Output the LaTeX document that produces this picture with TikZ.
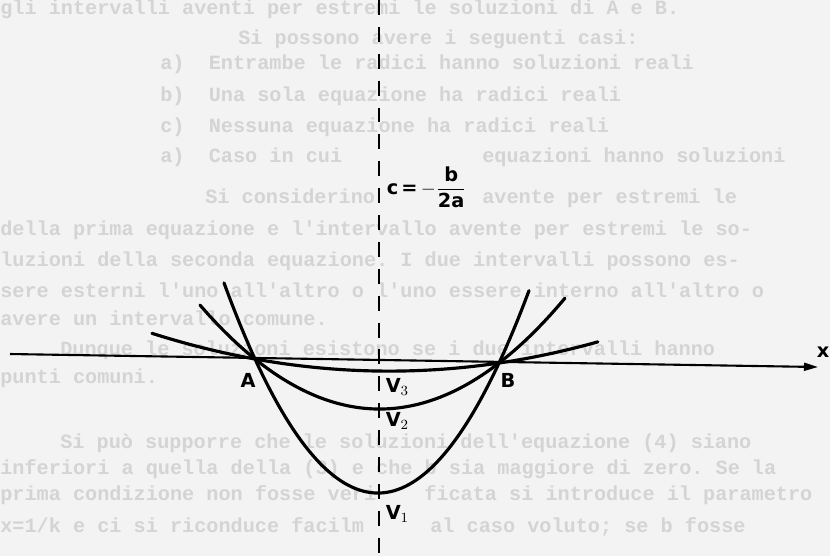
\documentclass[tikz,border=0pt]{standalone}
\usepackage{amsmath}
\usepackage{fontspec}
\setsansfont{DejaVu Sans}
\setmonofont{Liberation Mono}
\usetikzlibrary{arrows.meta}

\definecolor{pagebg}{RGB}{243,243,243}
\definecolor{bleed}{RGB}{212,212,212}

\begin{document}
\begin{tikzpicture}[
    x=0.02cm, y=-0.02cm,
    curve/.style={line width=1.8pt, line cap=round},
    xaxis/.style={line width=1.2pt, -{Triangle[length=8pt, width=4.5pt]}},
    symaxis/.style={line width=1.5pt, dash pattern=on 8.5pt off 6.8pt},
    lbl/.style={font=\sffamily\bfseries\fontsize{11pt}{13pt}\selectfont, inner sep=0.8pt},
    bgtext/.style={anchor=base west, inner sep=0pt, text=bleed, font=\ttfamily\bfseries\fontsize{11.5pt}{14pt}\selectfont}
]
    \useasboundingbox (0,0) rectangle (830,556);
    \fill[pagebg] (0,0) rectangle (830,556);

    % faint text of the printed page
    \begin{scope}
        \clip (0,0) rectangle (830,556);
        \node (t0) [bgtext] at (0,14) {gli intervalli aventi per estremi le soluzioni di A e B.};
        \node (t1) [bgtext] at (238,44) {Si possono avere i seguenti casi:};
        \node (t2) [bgtext] at (160,69) {a)\ \ Entrambe le radici hanno soluzioni reali};
        \node (t3) [bgtext] at (160,101) {b)\ \ Una sola equazione ha radici reali};
        \node (t4) [bgtext] at (160,132) {c)\ \ Nessuna equazione ha radici reali};
        \node (t5a) [bgtext] at (160,162) {a)\ \ Caso in cui};
        \node (t5b) [bgtext] at (482,162) {equazioni hanno soluzioni};
        \node (t6a) [bgtext] at (205,203) {Si considerino};
        \node (t6b) [bgtext] at (482,203) {avente per estremi le};
        \node (t7) [bgtext] at (0,235) {della prima equazione e l'intervallo avente per estremi le so-};
        \node (t8) [bgtext] at (0,266) {luzioni della seconda equazione. I due intervalli possono es-};
        \node (t9) [bgtext] at (0,297) {sere esterni l'uno all'altro o l'uno essere interno all'altro o};
        \node (t10) [bgtext] at (0,325) {avere un intervallo comune.};
        \node (t11) [bgtext] at (60,355) {Dunque le soluzioni esistono se i due intervalli hanno};
        \node (t12) [bgtext] at (0,383) {punti comuni.};
        \node (t13) [bgtext] at (60,448) {Si può supporre che le soluzioni dell'equazione (4) siano};
        \node (t14) [bgtext] at (0,474) {inferiori a quella della (3) e che b sia maggiore di zero. Se la};
        \node (t15a) [bgtext] at (0,500) {prima condizione non fosse veri};
        \node (t15b) [bgtext] at (424,500) {ficata si introduce il parametro};
        \node (t16a) [bgtext] at (0,532) {x=1/k e ci si riconduce facilm};
        \node (t16b) [bgtext] at (430,532) {al caso voluto; se b fosse};
    \end{scope}

    \coordinate (xstart) at (10,354);
    \coordinate (xend) at (818,367);
    \coordinate (top) at (379,0);
    \coordinate (bottom) at (379,556);

    \draw [symaxis] (top) -- (bottom);
    \draw [xaxis] (xstart) -- (xend);

    % the three parabolas through A and B
    \draw [curve] plot[domain=-1.53:1.52, samples=80] ({377+100*\x}, {361+1.639*\x-88.7*(\x*\x-1.4884)});
    \draw [curve] plot[domain=-1.77:1.88, samples=80] ({377+100*\x}, {361+1.639*\x-32.25*(\x*\x-1.4884)});
    \draw [curve] plot[domain=-2.25:2.21, samples=80] ({377+100*\x}, {361+1.639*\x-6.72*(\x*\x-1.4884)});

    \node (labA) [lbl, fill=pagebg] at (248,380) {A};
    \node (labB) [lbl, fill=pagebg] at (508,380) {B};
    \node (labx) [lbl] at (823,352) {x};
    \node (labV3) [lbl, fill=pagebg, anchor=west] at (384,387) {V$_3$};
    \node (labV2) [lbl, fill=pagebg, anchor=west] at (384,421) {V$_2$};
    \node (labV1) [lbl, fill=pagebg, anchor=west] at (384,514) {V$_1$};
    \node (labc) [lbl, fill=pagebg, anchor=west] at (385,187) {c\,=\,$-\dfrac{\textbf{b}}{\textbf{2a}}$};
\end{tikzpicture}
\end{document}
